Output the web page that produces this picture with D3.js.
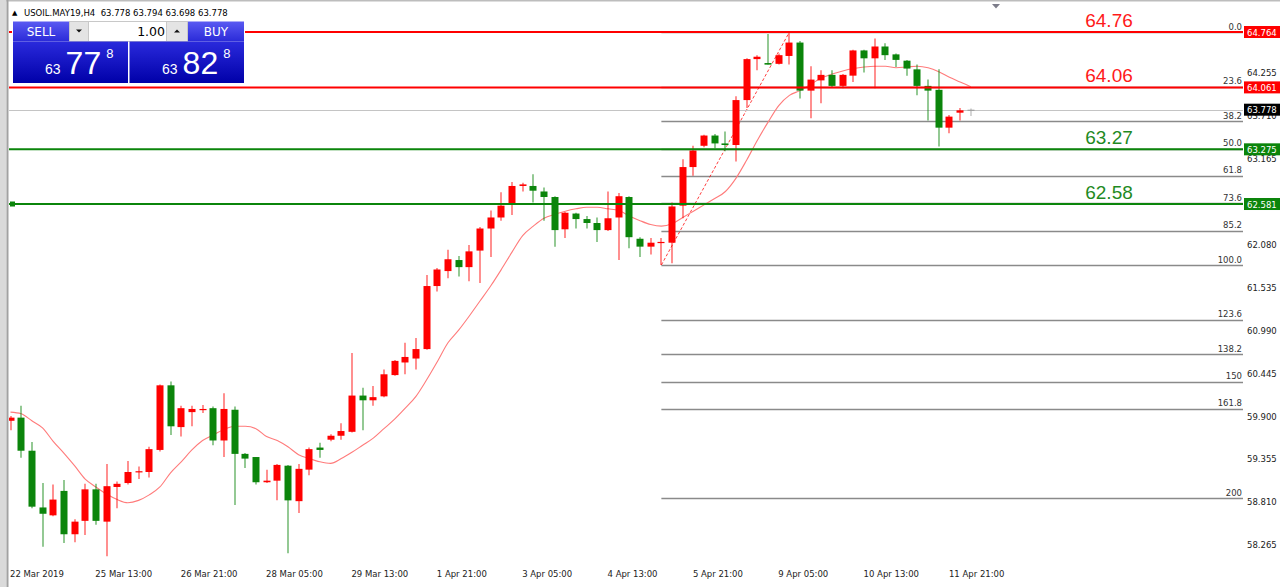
<!DOCTYPE html>
<html>
<head>
<meta charset="utf-8">
<script src="https://cdn.jsdelivr.net/npm/d3@7/dist/d3.min.js"></script>
<style>
  body { margin: 0; background: #fff; }
  svg { display: block; }
</style>
</head>
<body>
<div id="chart"></div>
<script>
// USOIL.MAY19 H4 bars (oldest first)
var opens = [59.83,59.87,59.45,58.73,58.63,58.94,58.39,58.56,58.96,58.55,
  58.99,59.04,59.18,59.18,59.46,60.28,59.75,59.94,59.97,59.99,
  59.58,59.97,59.41,59.37,59.05,59.07,59.26,58.81,59.21,59.49,
  59.59,59.64,59.69,60.15,60.09,60.14,60.41,60.57,60.62,60.74,
  61.54,61.73,61.87,61.78,61.99,62.27,62.41,62.59,62.81,62.81,
  62.74,62.67,62.26,62.46,62.39,62.34,62.25,62.41,62.67,62.14,
  62.04,62.09,62.09,62.56,63.05,63.32,63.45,63.35,63.33,63.90,
  64.42,64.37,64.36,64.46,64.63,64.02,64.15,64.22,64.08,64.21,
  64.53,64.43,64.58,64.48,64.40,64.29,64.08,64.03,63.55,63.74,
  63.778];
var highs = [59.89,60.02,59.56,59.04,59.02,59.08,58.58,59.03,59.03,59.28,
  59.06,59.32,59.25,59.50,60.29,60.33,60.02,60.02,60.03,60.01,
  60.18,60.01,59.42,59.37,59.21,59.28,59.27,59.28,59.49,59.55,
  59.66,59.80,60.69,60.25,60.27,60.48,60.60,60.82,60.88,61.68,
  61.77,62.00,61.92,62.06,62.29,62.50,62.73,62.86,62.85,62.96,
  62.79,62.68,62.48,62.47,62.43,62.41,62.74,62.72,62.68,62.16,
  62.15,62.15,62.60,63.15,63.32,63.46,63.47,63.50,63.95,64.43,
  64.47,64.74,64.49,64.764,64.65,64.33,64.28,64.28,64.23,64.54,
  64.54,64.68,64.62,64.49,64.41,64.35,64.16,64.29,63.71,63.80,
  63.794];
var lows = [59.71,59.36,58.72,58.23,58.62,58.28,58.29,58.38,58.51,58.11,
  58.72,59.02,59.09,59.11,59.44,59.65,59.63,59.76,59.93,59.52,
  59.37,58.76,59.23,59.02,59.04,58.82,58.15,58.66,59.14,59.36,
  59.57,59.59,59.68,59.71,60.02,60.13,60.40,60.42,60.48,60.73,
  61.47,61.64,61.66,61.60,61.58,61.91,62.37,62.44,62.74,62.60,
  62.37,62.04,62.15,62.27,62.27,62.10,62.24,61.87,62.02,61.91,
  61.94,61.807,61.83,62.40,62.94,63.30,63.29,63.25,63.12,63.80,
  64.28,64.35,64.35,64.35,63.92,63.67,63.86,64.06,64.05,64.13,
  64.25,64.05,64.41,64.32,64.21,63.96,63.64,63.31,63.48,63.64,
  63.698];
var closes = [59.87,59.45,58.74,58.65,58.83,58.39,58.55,58.96,58.56,59.00,
  59.03,59.18,59.19,59.47,60.28,59.76,59.99,59.98,59.98,59.58,
  59.98,59.41,59.35,59.05,59.07,59.27,58.82,59.22,59.47,59.46,
  59.64,59.70,60.15,60.09,60.13,60.42,60.59,60.64,60.74,61.54,
  61.75,61.88,61.78,61.98,62.27,62.41,62.56,62.81,62.83,62.75,
  62.67,62.25,62.47,62.39,62.34,62.25,62.40,62.68,62.16,62.04,
  62.09,62.10,62.55,63.05,63.26,63.45,63.35,63.33,63.90,64.42,
  64.45,64.35,64.47,64.63,64.02,64.16,64.22,64.08,64.22,64.53,
  64.43,64.58,64.47,64.41,64.30,64.08,64.02,63.55,63.69,63.77,
  63.778];
// moving average line as drawn on the chart
var maValues = [59.94,59.92,59.83,59.74,59.57,59.42,59.26,59.09,58.99,58.90,
  58.83,58.79,58.82,58.89,58.99,59.17,59.31,59.46,59.58,59.65,
  59.72,59.76,59.76,59.73,59.63,59.58,59.50,59.40,59.35,59.31,
  59.29,59.35,59.43,59.52,59.61,59.73,59.85,59.99,60.14,60.35,
  60.58,60.82,60.98,61.16,61.35,61.54,61.75,61.97,62.18,62.30,
  62.40,62.45,62.49,62.52,62.54,62.54,62.52,62.50,62.43,62.37,
  62.32,62.30,62.33,62.41,62.49,62.57,62.65,62.74,62.91,63.14,
  63.39,63.62,63.83,63.96,64.02,64.10,64.18,64.23,64.27,64.30,
  64.32,64.33,64.33,64.31,64.32,64.33,64.31,64.26,64.19,64.13,
  64.07];

var timeTickBars = [0, 8, 16, 24, 32, 40, 48, 56, 64, 72, 80, 88];
var timeLabels = ["22 Mar 2019", "25 Mar 13:00", "26 Mar 21:00", "28 Mar 05:00",
  "29 Mar 13:00", "1 Apr 21:00", "3 Apr 05:00", "4 Apr 13:00",
  "5 Apr 21:00", "9 Apr 05:00", "10 Apr 13:00", "11 Apr 21:00"];

var priceTicks = [64.800, 64.255, 63.710, 63.165, 62.620, 62.080, 61.535,
  60.990, 60.445, 59.900, 59.355, 58.810, 58.265];
var priceTickLabels = ["64.800", "64.255", "63.710", "63.165", "62.620", "62.080", "61.535",
  "60.990", "60.445", "59.900", "59.355", "58.810", "58.265"];

var levels = [64.764, 64.061, 63.275, 62.581];
var levelTexts = ["64.76", "64.06", "63.27", "62.58"];
var levelBoxTexts = ["64.764", "64.061", "63.275", "62.581"];
var levelKinds = ["res", "res", "sup", "sup"];

var fibRatios = [0.0, 23.6, 38.2, 50.0, 61.8, 73.6, 85.2, 100.0, 123.6, 138.2, 150, 161.8, 200];
var fibLabels = ["0.0", "23.6", "38.2", "50.0", "61.8", "73.6", "85.2", "100.0", "123.6", "138.2", "150", "161.8", "200"];
var fibHigh = 64.764, fibLow = 61.807;
var fibFromBar = 61, fibToBar = 73;

var bid = 63.778;
var quote = { sym: "USOIL.MAY19,H4", o: "63.778", h: "63.794", l: "63.698", c: "63.778" };
var sellParts = ["63", "77", "8"];
var buyParts = ["63", "82", "8"];

(function() {
    var width = 1280, height = 587;
    var plotL = 9, plotR = 1243;
    var red = "#ff0000", green = "#0b850b";
    var axisFont = "'DejaVu Sans', sans-serif";

    var svg = d3.select("#chart").append("svg")
        .attr("width", width)
        .attr("height", height);

    var defs = svg.append("defs");
    defs.append("clipPath").attr("id", "plot")
        .append("rect").attr("x", plotL).attr("y", 2).attr("width", plotR - plotL).attr("height", 565);

    var x = d3.scaleLinear().domain([0, 90]).range([10.5, 970.8]);
    var y = d3.scaleLinear().domain([58.265, 64.764]).range([544.1, 32]);

    // frame
    svg.append("rect").attr("x", 0).attr("y", 0).attr("width", width).attr("height", 1.5).attr("fill", "#bdbdbd");
    svg.append("rect").attr("x", 0).attr("y", 0).attr("width", 6.5).attr("height", height).attr("fill", "#dadada");
    svg.append("rect").attr("x", 6.5).attr("y", 0).attr("width", 2).attr("height", height).attr("fill", "#a2a2a2");
    svg.append("path").attr("d", "M992,4 L1000,4 L996,8.5 Z").attr("fill", "#7d7d8a");

    // price axis labels
    var yAxis = d3.axisRight(y)
        .tickValues(priceTicks)
        .tickSize(0)
        .tickPadding(0)
        .tickFormat(function(d, i) { return priceTickLabels[i]; });
    var ya = svg.append("g").attr("transform", "translate(1247,1)").call(yAxis);
    ya.select(".domain").remove();
    ya.selectAll("text").attr("font-family", axisFont).attr("font-size", "8.5px").attr("fill", "#222");

    // time axis labels
    var xAxis = d3.axisBottom(x)
        .tickValues(timeTickBars)
        .tickSize(0)
        .tickPadding(0)
        .tickFormat(function(d, i) { return timeLabels[i]; });
    var xa = svg.append("g").attr("transform", "translate(-1,571)").call(xAxis);
    xa.select(".domain").remove();
    xa.selectAll("text").attr("font-family", axisFont).attr("font-size", "8.5px")
        .attr("fill", "#222").attr("text-anchor", "start");

    var plot = svg.append("g").attr("clip-path", "url(#plot)");

    // fibonacci levels
    var fibLevel = function(r) { return fibHigh - r / 100 * (fibHigh - fibLow); };
    var fib = plot.append("g");
    fib.selectAll("line").data(fibRatios).enter().append("line")
        .attr("x1", x(fibFromBar)).attr("x2", plotR)
        .attr("y1", function(d) { return Math.round(y(fibLevel(d))) + 0.5; })
        .attr("y2", function(d) { return Math.round(y(fibLevel(d))) + 0.5; })
        .attr("stroke", "#8a8a8a").attr("stroke-width", 1.3);
    fib.selectAll("text").data(fibRatios).enter().append("text")
        .attr("x", plotR - 1)
        .attr("y", function(d) { return y(fibLevel(d)) - 2.5; })
        .attr("text-anchor", "end")
        .attr("font-family", axisFont).attr("font-size", "8.5px").attr("fill", "#333")
        .text(function(d, i) { return fibLabels[i]; });
    plot.append("line")
        .attr("x1", x(fibFromBar)).attr("y1", y(fibLow))
        .attr("x2", x(fibToBar)).attr("y2", y(fibHigh))
        .attr("stroke", red).attr("stroke-opacity", 0.75).attr("stroke-dasharray", "3,2");

    // bid line
    plot.append("line").attr("x1", plotL).attr("x2", plotR)
        .attr("y1", Math.round(y(bid)) + 0.5).attr("y2", Math.round(y(bid)) + 0.5)
        .attr("stroke", "#c4c4c4");

    // moving average
    var ma = d3.line()
        .x(function(d, i) { return x(i); })
        .y(function(d) { return y(d); })
        .curve(d3.curveMonotoneX);
    plot.append("path").datum(maValues)
        .attr("d", ma).attr("fill", "none")
        .attr("stroke", "#ff7b7b").attr("stroke-width", 1.1);

    // candles
    var bars = d3.range(opens.length).map(function(i) {
        return { i: i, o: opens[i], h: highs[i], l: lows[i], c: closes[i] };
    });
    var colorOf = function(d) {
        if (d.c === d.o) return "#a0a0a0";
        return d.c > d.o ? red : green;
    };
    var candle = plot.selectAll("g.bar").data(bars).enter().append("g").attr("class", "bar");
    candle.append("line")
        .attr("x1", function(d) { return Math.round(x(d.i)); })
        .attr("x2", function(d) { return Math.round(x(d.i)); })
        .attr("y1", function(d) { return y(d.h); })
        .attr("y2", function(d) { return y(d.l); })
        .attr("stroke", colorOf).attr("stroke-width", 1.1).attr("stroke-opacity", 0.8);
    candle.append("rect")
        .attr("x", function(d) { return Math.round(x(d.i)) - 3.5; })
        .attr("width", 7)
        .attr("y", function(d) { return y(Math.max(d.o, d.c)); })
        .attr("height", function(d) { return Math.max(1.2, Math.abs(y(d.o) - y(d.c))); })
        .attr("fill", colorOf);

    // horizontal levels
    var levelColor = function(i) { return levelKinds[i] === "res" ? red : green; };
    var lv = plot.append("g");
    lv.selectAll("line").data(levels).enter().append("line")
        .attr("x1", plotL).attr("x2", plotR)
        .attr("y1", function(d) { return y(d); }).attr("y2", function(d) { return y(d); })
        .attr("stroke", function(d, i) { return levelColor(i); }).attr("stroke-width", 2);
    lv.selectAll("text").data(levels).enter().append("text")
        .attr("x", 1109).attr("y", function(d) { return y(d) - 5; })
        .attr("text-anchor", "middle")
        .attr("font-family", "'Liberation Sans', Arial, sans-serif").attr("font-size", "19px")
        .attr("fill", function(d, i) { return i < 2 ? "#ff1a1a" : "#1f8a1f"; })
        .text(function(d, i) { return levelTexts[i]; });
    plot.append("rect").attr("x", 10).attr("y", y(levels[3]) - 2.5).attr("width", 5).attr("height", 5).attr("fill", green);

    // price boxes on the axis
    var boxVals = levels.concat([bid]);
    var boxTexts = levelBoxTexts.concat([bid.toFixed(3)]);
    var boxCols = levels.map(function(d, i) { return levelColor(i); }).concat(["#000"]);
    var bx = svg.selectAll("g.box").data(boxVals).enter().append("g").attr("class", "box");
    bx.append("rect").attr("x", 1244).attr("width", 36)
        .attr("y", function(d) { return y(d) - 6; }).attr("height", 12)
        .attr("fill", function(d, i) { return boxCols[i]; });
    bx.append("text").attr("x", 1247).attr("y", function(d) { return y(d) + 3.5; })
        .attr("font-family", axisFont).attr("font-size", "8.5px").attr("fill", "#fff")
        .text(function(d, i) { return boxTexts[i]; });

    // header text
    svg.append("text").attr("x", 12).attr("y", 15)
        .attr("font-family", axisFont).attr("font-size", "7px").attr("fill", "#000").text("\u25B2");
    svg.append("text").attr("x", 24).attr("y", 15.5)
        .attr("font-family", axisFont).attr("font-size", "8.5px").attr("fill", "#000")
        .attr("xml:space", "preserve")
        .text(quote.sym + "  " + quote.o + " " + quote.h + " " + quote.l + " " + quote.c);

    // one-click trading panel
    var g1 = defs.append("linearGradient").attr("id", "btn").attr("x1", 0).attr("y1", 0).attr("x2", 0).attr("y2", 1);
    g1.append("stop").attr("offset", "0").attr("stop-color", "#5a5af2");
    g1.append("stop").attr("offset", "1").attr("stop-color", "#2a2ad8");
    var g2 = defs.append("linearGradient").attr("id", "box").attr("x1", 0).attr("y1", 0).attr("x2", 0).attr("y2", 1);
    g2.append("stop").attr("offset", "0").attr("stop-color", "#2a2adc");
    g2.append("stop").attr("offset", "1").attr("stop-color", "#0000a8");

    var panel = svg.append("g");
    panel.append("rect").attr("x", 12).attr("y", 21).attr("width", 233).attr("height", 63).attr("fill", "#fff");
    panel.append("rect").attr("x", 13).attr("y", 21.5).attr("width", 56).attr("height", 20).attr("fill", "url(#btn)");
    panel.append("rect").attr("x", 188).attr("y", 21.5).attr("width", 56).attr("height", 20).attr("fill", "url(#btn)");
    panel.append("rect").attr("x", 69.5).attr("y", 21.5).attr("width", 19).attr("height", 20).attr("fill", "#e4e4e4").attr("stroke", "#c8c8c8");
    panel.append("rect").attr("x", 88.5).attr("y", 21.5).attr("width", 78).attr("height", 20).attr("fill", "#fff").attr("stroke", "#c8c8c8");
    panel.append("rect").attr("x", 166.5).attr("y", 21.5).attr("width", 21).attr("height", 20).attr("fill", "#e4e4e4").attr("stroke", "#c8c8c8");
    panel.append("path").attr("d", "M76,29.5 L82,29.5 L79,32.5 Z").attr("fill", "#111");
    panel.append("path").attr("d", "M174,32.5 L180,32.5 L177,29.5 Z").attr("fill", "#111");
    panel.append("text").attr("x", 165).attr("y", 36).attr("text-anchor", "end")
        .attr("font-family", axisFont).attr("font-size", "12.5px").attr("fill", "#000").text("1.00");
    panel.append("text").attr("x", 41).attr("y", 36).attr("text-anchor", "middle")
        .attr("font-family", axisFont).attr("font-size", "12px").attr("fill", "#fff").text("SELL");
    panel.append("text").attr("x", 216).attr("y", 36).attr("text-anchor", "middle")
        .attr("font-family", axisFont).attr("font-size", "12px").attr("fill", "#fff").text("BUY");

    panel.append("rect").attr("x", 13).attr("y", 41.5).attr("width", 115).attr("height", 41.5).attr("fill", "url(#box)");
    panel.append("rect").attr("x", 129.5).attr("y", 41.5).attr("width", 114.5).attr("height", 41.5).attr("fill", "url(#box)");

    var bigFont = "'Liberation Sans', Arial, sans-serif";
    [[sellParts, 45], [buyParts, 162]].forEach(function(p) {
        var t = panel.append("text").attr("x", p[1]).attr("y", 74)
            .attr("font-family", bigFont).attr("fill", "#fff");
        t.append("tspan").attr("font-size", "14px").text(p[0][0]);
        t.append("tspan").attr("font-size", "32px").attr("dx", 5).text(p[0][1]);
        t.append("tspan").attr("font-size", "13px").attr("dx", 5).attr("dy", -16).text(p[0][2]);
    });
})();
</script>
</body>
</html>
